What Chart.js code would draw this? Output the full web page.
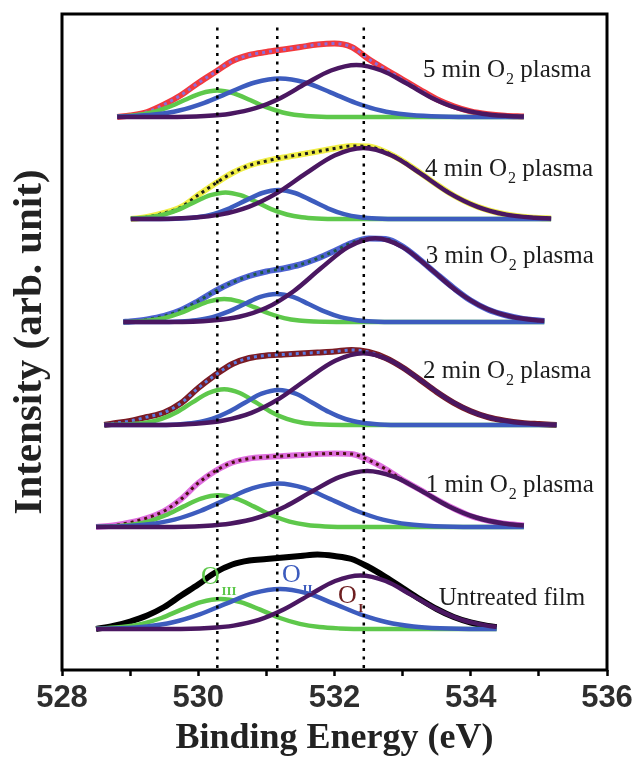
<!DOCTYPE html>
<html>

<head>
	<meta charset="UTF-8">
	<title>O 1s XPS spectra</title>
	<script src="https://cdn.jsdelivr.net/npm/chart.js"></script>
	<style>
		body {
			margin: 0;
			background: #fff;
		}

		canvas {
			display: block;
		}
	</style>
</head>

<body>
	<canvas id="xps" width="633" height="760"></canvas>
	<script>
		// binding energy (eV) of the three dotted guide lines
		const guideEnergies = [530.28, 531.16, 532.43];
		const guideRange = [2, 648];

		// x axis tick labels (minor ticks every 1 eV carry no label)
		const xTickLabels = [528, 530, 532, 534, 536];

		// stacking offsets of the spectra, top to bottom
		const spectrumNames = ['5 min', '4 min', '3 min', '2 min', '1 min', 'Untreated'];
		const offsets = [553, 451, 348, 245, 143, 41];

		// measured data (envelope), [binding energy, intensity]
		const env5 = [[528.81, 0], [529.0, 1.5], [529.25, 5], [529.5, 12.5], [529.75, 22], [530.0, 34], [530.25, 45], [530.5, 56], [530.75, 62], [531.0, 65], [531.25, 67.5], [531.5, 70], [531.75, 72.5], [532.0, 73.5], [532.25, 70], [532.5, 58], [532.75, 47.5], [533.0, 37.5], [533.25, 27.5], [533.5, 17.8], [533.75, 10.8], [534.0, 5.6], [534.25, 2.8], [534.5, 1.2], [534.78, 0.4]];
		const env4 = [[529.01, 0], [529.25, 2], [529.5, 6], [529.75, 12], [530.0, 24], [530.25, 35.5], [530.5, 46], [530.75, 53.5], [531.0, 58], [531.25, 61.5], [531.5, 64.5], [531.75, 67.5], [532.0, 70.5], [532.25, 73], [532.5, 72.5], [532.75, 67], [533.0, 58], [533.25, 46.5], [533.5, 34.5], [533.75, 23.5], [534.0, 15], [534.25, 8.8], [534.5, 4.7], [534.75, 2.3], [535.0, 1], [535.18, 0.5]];
		const env3 = [[528.9, 0], [529.0, 0.5], [529.25, 2.5], [529.5, 6], [529.75, 12], [530.0, 21], [530.25, 31], [530.5, 39.5], [530.75, 46], [531.0, 50.5], [531.25, 53.5], [531.5, 57.5], [531.75, 63.5], [532.0, 71], [532.25, 79], [532.5, 83.5], [532.75, 83], [533.0, 75.5], [533.25, 62.5], [533.5, 48], [533.75, 34], [534.0, 21.5], [534.25, 12.6], [534.5, 7], [534.75, 3.4], [535.08, 1]];
		const env2 = [[528.62, 0], [528.75, 1.5], [529.0, 4], [529.25, 8], [529.5, 12.5], [529.75, 22], [530.0, 37], [530.25, 50], [530.5, 61], [530.75, 67], [531.0, 69.5], [531.25, 70.5], [531.5, 71.5], [531.75, 72.5], [532.0, 73.5], [532.25, 75], [532.5, 73], [532.75, 67], [533.0, 57.5], [533.25, 45.5], [533.5, 33], [533.75, 22.2], [534.0, 13.8], [534.25, 7.9], [534.5, 4.3], [534.75, 2], [535.0, 0.9], [535.26, 0]];
		const env1 = [[528.5, 0], [528.75, 1.5], [529.0, 4.5], [529.25, 9], [529.5, 16], [529.75, 28], [530.0, 44], [530.25, 56], [530.5, 64.5], [530.75, 68.5], [531.0, 70], [531.25, 71], [531.5, 72], [531.75, 73], [532.0, 73.5], [532.25, 73], [532.5, 67], [532.75, 58], [533.0, 47], [533.25, 37.5], [533.5, 27.5], [533.75, 18.5], [534.0, 11], [534.25, 6.3], [534.5, 3.2], [534.78, 1.5]];
		const env0 = [[528.5, 0], [528.75, 3], [529.0, 7.5], [529.25, 13.5], [529.5, 22], [529.75, 33.5], [530.0, 44.5], [530.25, 56.5], [530.5, 64.5], [530.75, 68.5], [531.0, 70], [531.25, 71.5], [531.5, 73], [531.75, 74.5], [532.0, 73], [532.25, 70], [532.5, 62], [532.75, 52], [533.0, 41], [533.25, 30], [533.5, 20], [533.75, 12], [534.0, 6.5], [534.25, 3], [534.38, 2]];

		// fitted components: O_III (green), O_II (blue), O_I (purple)
		const oIII5 = [[528.81, 0.4], [529.08, 1.7], [529.32, 4.5], [529.56, 9.8], [529.80, 17.0], [530.04, 23.7], [530.28, 26.5], [530.52, 23.7], [530.76, 17.0], [531.00, 9.8], [531.24, 4.5], [531.48, 1.7], [531.72, 0.5], [532.08, 0], [534.78, 0]];
		const oII5 = [[528.81, 0.4], [528.98, 0.7], [529.35, 2.4], [529.72, 6.5], [530.09, 14.2], [530.46, 24.7], [530.83, 34.5], [531.20, 38.5], [531.57, 34.5], [531.94, 24.7], [532.31, 14.2], [532.68, 6.5], [533.05, 2.4], [533.42, 0.7], [533.98, 0], [534.78, 0]];
		const oI5 = [[528.81, 0], [529.54, 0], [530.10, 1.0], [530.47, 3.3], [530.84, 8.8], [531.21, 19.1], [531.58, 33.4], [531.95, 46.5], [532.32, 52], [532.69, 46.5], [533.06, 33.4], [533.43, 19.1], [533.80, 8.8], [534.17, 3.3], [534.54, 1.0], [534.78, 0.4]];

		const oIII4 = [[529.01, 0.4], [529.28, 1.7], [529.50, 4.5], [529.73, 9.8], [529.95, 17.1], [530.18, 23.8], [530.40, 26.6], [530.62, 23.8], [530.85, 17.1], [531.07, 9.8], [531.30, 4.5], [531.52, 1.7], [531.74, 0.5], [532.08, 0], [535.18, 0]];
		const oII4 = [[529.01, 0], [529.38, 0], [529.74, 0.5], [529.98, 1.8], [530.22, 4.9], [530.46, 10.7], [530.70, 18.6], [530.94, 26.0], [531.18, 29], [531.42, 26.0], [531.66, 18.6], [531.90, 10.7], [532.14, 4.9], [532.38, 1.8], [532.62, 0.5], [532.98, 0], [535.18, 0]];
		const oI4 = [[529.01, 0], [529.27, 0], [529.90, 1.3], [530.32, 4.4], [530.74, 12.1], [531.16, 26.1], [531.58, 45.6], [532.00, 63.5], [532.42, 71], [532.84, 63.5], [533.26, 45.6], [533.68, 26.1], [534.10, 12.1], [534.52, 4.4], [534.94, 1.3], [535.18, 0.6]];

		const oIII3 = [[528.90, 0], [529.06, 0.4], [529.28, 1.4], [529.50, 3.9], [529.72, 8.5], [529.94, 14.8], [530.16, 20.6], [530.38, 23], [530.60, 20.6], [530.82, 14.8], [531.04, 8.5], [531.26, 3.9], [531.48, 1.4], [531.70, 0.4], [532.03, 0], [535.08, 0]];
		const oII3 = [[528.90, 0], [529.38, 0], [529.73, 0.5], [529.97, 1.8], [530.21, 4.8], [530.44, 10.3], [530.68, 18.0], [530.91, 25.1], [531.15, 28], [531.39, 25.1], [531.62, 18.0], [531.86, 10.3], [532.09, 4.8], [532.33, 1.8], [532.57, 0.5], [532.92, 0], [535.08, 0]];
		const oI3 = [[528.90, 0], [529.60, 0], [530.20, 1.5], [530.60, 5.2], [531.00, 14.2], [531.40, 30.8], [531.80, 53.7], [532.20, 74.9], [532.60, 83.7], [533.00, 74.9], [533.40, 53.7], [533.80, 30.8], [534.20, 14.2], [534.60, 5.2], [535.00, 1.5], [535.08, 1.2]];

		const oIII2 = [[528.62, 0], [529.00, 0.7], [529.23, 2.2], [529.46, 6.1], [529.69, 13.1], [529.92, 22.9], [530.15, 32.0], [530.38, 35.7], [530.61, 32.0], [530.84, 22.9], [531.07, 13.1], [531.30, 6.1], [531.53, 2.2], [531.76, 0.7], [532.11, 0], [535.26, 0]];
		const oII2 = [[528.62, 0], [529.34, 0], [529.70, 0.6], [529.95, 2.2], [530.20, 6.0], [530.44, 12.9], [530.69, 22.5], [530.93, 31.3], [531.18, 35], [531.43, 31.3], [531.67, 22.5], [531.92, 12.9], [532.16, 6.0], [532.41, 2.2], [532.66, 0.6], [533.03, 0], [535.26, 0]];
		const oI2 = [[528.62, 0], [529.35, 0], [529.96, 1.3], [530.37, 4.5], [530.78, 12.2], [531.19, 26.4], [531.60, 46.0], [532.01, 64.2], [532.42, 71.7], [532.83, 64.2], [533.24, 46.0], [533.65, 26.4], [534.06, 12.2], [534.47, 4.5], [534.88, 1.3], [535.26, 0.3]];

		const oIII1 = [[528.50, 0.2], [528.74, 0.6], [529.00, 2.0], [529.26, 5.4], [529.52, 11.7], [529.78, 20.4], [530.04, 28.4], [530.30, 31.7], [530.56, 28.4], [530.82, 20.4], [531.08, 11.7], [531.34, 5.4], [531.60, 2.0], [531.86, 0.6], [532.25, 0], [534.78, 0]];
		const oII1 = [[528.50, 0.2], [528.89, 0.8], [529.27, 2.7], [529.65, 7.4], [530.03, 16.0], [530.42, 27.9], [530.80, 38.8], [531.18, 43.4], [531.56, 38.8], [531.94, 27.9], [532.33, 16.0], [532.71, 7.4], [533.09, 2.7], [533.47, 0.8], [534.05, 0], [534.78, 0]];
		const oI1 = [[528.50, 0], [529.48, 0], [530.08, 1.0], [530.48, 3.5], [530.88, 9.5], [531.28, 20.6], [531.68, 36.0], [532.08, 50.1], [532.48, 56], [532.88, 50.1], [533.28, 36.0], [533.68, 20.6], [534.08, 9.5], [534.48, 3.5], [534.78, 1.5]];

		const oIII0 = [[528.50, 0.4], [528.59, 0.6], [528.88, 1.9], [529.17, 5.1], [529.46, 11.0], [529.75, 19.3], [530.04, 26.9], [530.33, 30], [530.62, 26.9], [530.91, 19.3], [531.20, 11.0], [531.49, 5.1], [531.78, 1.9], [532.07, 0.6], [532.51, 0], [534.38, 0]];
		const oII0 = [[528.50, 0.2], [528.85, 0.7], [529.24, 2.5], [529.63, 6.8], [530.02, 14.7], [530.42, 25.7], [530.81, 35.8], [531.20, 40], [531.59, 35.8], [531.98, 25.7], [532.38, 14.7], [532.77, 6.8], [533.16, 2.5], [533.55, 0.7], [534.14, 0], [534.38, 0]];
		const oI0 = [[528.50, 0], [529.59, 0], [530.15, 1.0], [530.52, 3.4], [530.89, 9.1], [531.26, 19.7], [531.64, 34.4], [532.01, 48.0], [532.38, 53.6], [532.75, 48.0], [533.12, 34.4], [533.50, 19.7], [533.87, 9.1], [534.24, 3.4], [534.38, 2.2]];

		const spectra = [
			{env: env5, o3: oIII5, o2: oII5, o1: oI5},
			{env: env4, o3: oIII4, o2: oII4, o1: oI4},
			{env: env3, o3: oIII3, o2: oII3, o1: oI3},
			{env: env2, o3: oIII2, o2: oII2, o1: oI2},
			{env: env1, o3: oIII1, o2: oII1, o1: oI1},
			{env: env0, o3: oIII0, o2: oII0, o1: oI0}
		];

		// colours
		const green = '#5ec84b';
		const blue = '#3d5cbe';
		const purple = '#4a1761';
		const envLineColors = ['#f2393d', '#f0ee45', '#4d62d2', '#7a1b24', '#de6ede', '#000000'];
		const envDotColors = ['#8c6cd8', '#1b1b1b', '#1e5a44', '#5a7be2', '#4b1012', '#000000'];

		// text drawn on the plot: spectrum captions and component names
		const captions = [
			{parts: ['5 min O', '2', ' plasma'], at: [533.30, 593]},
			{parts: ['4 min O', '2', ' plasma'], at: [533.33, 494]},
			{parts: ['3 min O', '2', ' plasma'], at: [533.34, 407]},
			{parts: ['2 min O', '2', ' plasma'], at: [533.30, 292]},
			{parts: ['1 min O', '2', ' plasma'], at: [533.34, 178]},
			{parts: ['Untreated film'], at: [533.53, 65]}
		];
		const componentNames = [
			{text: 'O', sub: 'III', color: green, at: [530.04, 86], subAt: [530.34, 75]},
			{text: 'O', sub: 'II', color: blue, at: [531.23, 88], subAt: [531.53, 77]},
			{text: 'O', sub: 'I', color: '#6e1f20', at: [532.05, 67], subAt: [532.35, 58]}
		];

		const toPoints = (arr, off) => arr.map(p => ({x: p[0], y: off + p[1]}));

		const datasets = [];
		guideEnergies.forEach(e => {
			datasets.push({
				data: [{x: e, y: guideRange[0]}, {x: e, y: guideRange[1]}],
				borderColor: '#000',
				borderWidth: 2.5,
				borderDash: [3, 5.5],
				cubicInterpolationMode: 'default',
				tension: 0,
				order: 0
			});
		});
		spectra.forEach((s, i) => {
			const off = offsets[i];
			datasets.push({label: spectrumNames[i] + ' O I', data: toPoints(s.o1, off), borderColor: purple, borderWidth: 4.5, order: 1});
			datasets.push({label: spectrumNames[i] + ' O II', data: toPoints(s.o2, off), borderColor: blue, borderWidth: 4.5, order: 2});
			datasets.push({label: spectrumNames[i] + ' O III', data: toPoints(s.o3, off), borderColor: green, borderWidth: 4.5, order: 3});
			datasets.push({label: spectrumNames[i] + ' data', data: toPoints(s.env, off), borderColor: envDotColors[i], borderWidth: 3, borderDash: [3, 4], order: 4});
			datasets.push({label: spectrumNames[i] + ' fit', data: toPoints(s.env, off), borderColor: envLineColors[i], borderWidth: 6, order: 5});
		});

		// frame around the plot area
		const framePlugin = {
			id: 'frame',
			afterDraw(chart) {
				const {ctx, chartArea: a} = chart;
				ctx.save();
				ctx.strokeStyle = '#000';
				ctx.lineWidth = 3;
				ctx.strokeRect(a.left, a.top, a.right - a.left, a.bottom - a.top);
				ctx.restore();
			}
		};

		// captions and O_I / O_II / O_III labels
		const textPlugin = {
			id: 'plotText',
			afterDraw(chart) {
				const {ctx, scales: {x, y}} = chart;
				ctx.save();
				ctx.textBaseline = 'alphabetic';
				ctx.textAlign = 'left';
				captions.forEach(c => {
					let px = x.getPixelForValue(c.at[0]);
					const py = y.getPixelForValue(c.at[1]);
					ctx.fillStyle = '#1c1c1c';
					ctx.font = '25px "Liberation Serif"';
					ctx.fillText(c.parts[0], px, py);
					px += ctx.measureText(c.parts[0]).width;
					if (c.parts.length > 1) {
						ctx.font = '16px "Liberation Serif"';
						ctx.fillText(c.parts[1], px + 1, py + 7);
						px += ctx.measureText(c.parts[1]).width + 1;
						ctx.font = '25px "Liberation Serif"';
						ctx.fillText(c.parts[2], px, py);
					}
				});
				componentNames.forEach(c => {
					ctx.fillStyle = c.color;
					ctx.font = '26px "Liberation Serif"';
					ctx.fillText(c.text, x.getPixelForValue(c.at[0]), y.getPixelForValue(c.at[1]));
					ctx.font = 'bold 13px "Liberation Serif"';
					ctx.fillText(c.sub, x.getPixelForValue(c.subAt[0]), y.getPixelForValue(c.subAt[1]));
				});
				ctx.restore();
			}
		};

		new Chart(document.getElementById('xps'), {
			type: 'line',
			data: {datasets: datasets},
			options: {
				responsive: false,
				animation: false,
				events: [],
				layout: {
					padding: {top: 14, right: 26, bottom: 0, left: 0}
				},
				elements: {
					point: {radius: 0},
					line: {
						fill: false,
						cubicInterpolationMode: 'monotone',
						borderCapStyle: 'butt',
						borderJoinStyle: 'round'
					}
				},
				scales: {
					x: {
						type: 'linear',
						min: 528,
						max: 536,
						afterFit: scale => {
							scale.height = 90;
							scale.paddingLeft = 0;
							scale.paddingRight = 0;
						},
						border: {display: false},
						grid: {
							drawOnChartArea: false,
							drawTicks: true,
							tickLength: 6,
							tickWidth: 2.5,
							tickColor: '#000'
						},
						ticks: {
							stepSize: 1,
							autoSkip: false,
							maxRotation: 0,
							padding: 4,
							color: '#2e2e2e',
							font: {family: 'Liberation Sans', weight: 'bold', size: 31},
							callback: v => xTickLabels.includes(v) ? String(v) : ''
						},
						title: {
							display: true,
							text: 'Binding Energy (eV)',
							color: '#222',
							font: {family: 'Liberation Serif', weight: 'bold', size: 36},
							padding: {top: 0, bottom: 0}
						}
					},
					y: {
						min: 0,
						max: 656,
						afterFit: scale => { scale.width = 62; },
						border: {display: false},
						grid: {display: false},
						ticks: {display: false},
						title: {
							display: true,
							text: 'Intensity (arb. unit)',
							color: '#222',
							font: {family: 'Liberation Serif', weight: 'bold', size: 41},
							padding: {top: 6, bottom: 0}
						}
					}
				},
				plugins: {
					legend: {display: false},
					tooltip: {enabled: false}
				}
			},
			plugins: [framePlugin, textPlugin]
		});
	</script>
</body>

</html>
